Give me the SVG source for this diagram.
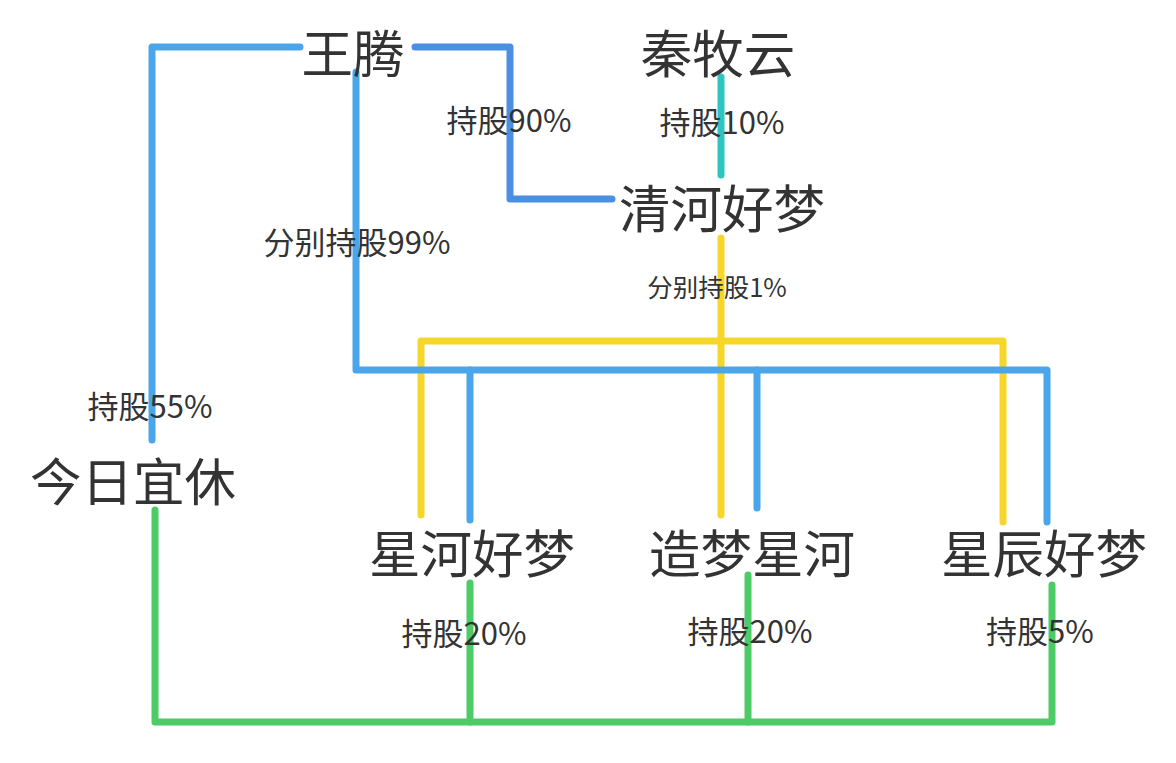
<svg xmlns="http://www.w3.org/2000/svg" width="1176" height="763" viewBox="0 0 1176 763">
<style>
.big{font-family:"Noto Sans CJK SC","Noto Sans",sans-serif;font-size:51.5px;fill:#333;text-anchor:middle;dominant-baseline:central}
.lbl{font-family:"Noto Sans CJK SC","Noto Sans",sans-serif;font-size:31px;fill:#333;text-anchor:middle;dominant-baseline:central}
.ln{fill:none;stroke-width:7;stroke-linecap:round;stroke-linejoin:round}
.blue{stroke:#4ba5ea}
.dblue{stroke:#4a8fe2}
.teal{stroke:#2ec4c2}
.yel{stroke:#f7d62a}
.grn{stroke:#4ccb66}
</style>
<rect width="1176" height="763" fill="#fff"/>
<g id="connectors">
<path class="ln blue" d="M152,440 V47 H300"/>
<path class="ln dblue" d="M415,47 H510 V199 H612"/>
<path class="ln teal" d="M721,77 V175"/>
<path class="ln yel" d="M421,515 V341 H1003 V522"/>
<path class="ln yel" d="M721,238 V515"/>
<path class="ln blue" d="M356,72 V370 H1047 V522"/>
<path class="ln blue" d="M470,370 V520"/>
<path class="ln blue" d="M757,370 V508"/>
<path class="ln grn" d="M155,510 V722 H1052 V585"/>
<path class="ln grn" d="M470,583 V722"/>
<path class="ln grn" d="M748,575 V722"/>
</g>
<g id="n-wangteng"><text class="big" x="353" y="50">王腾</text></g>
<g id="n-qinmuyun"><text class="big" x="718" y="50">秦牧云</text></g>
<g id="n-qinghe"><text class="big" x="722" y="205">清河好梦</text></g>
<g id="n-jinri"><text class="big" x="133" y="478">今日宜休</text></g>
<g id="n-xinghe"><text class="big" x="472" y="550">星河好梦</text></g>
<g id="n-zaomeng"><text class="big" x="752" y="550">造梦星河</text></g>
<g id="n-xingchen"><text class="big" x="1044" y="550">星辰好梦</text></g>
<g id="labels">
<text class="lbl" x="509" y="118">持股90%</text>
<text class="lbl" x="722" y="120">持股10%</text>
<text class="lbl" x="357" y="240">分别持股99%</text>
<text class="lbl" x="717" y="285" style="font-size:25.5px">分别持股1%</text>
<text class="lbl" x="150" y="404">持股55%</text>
<text class="lbl" x="464" y="631">持股20%</text>
<text class="lbl" x="750" y="629">持股20%</text>
<text class="lbl" x="1040" y="629">持股5%</text>
</g>
</svg>
